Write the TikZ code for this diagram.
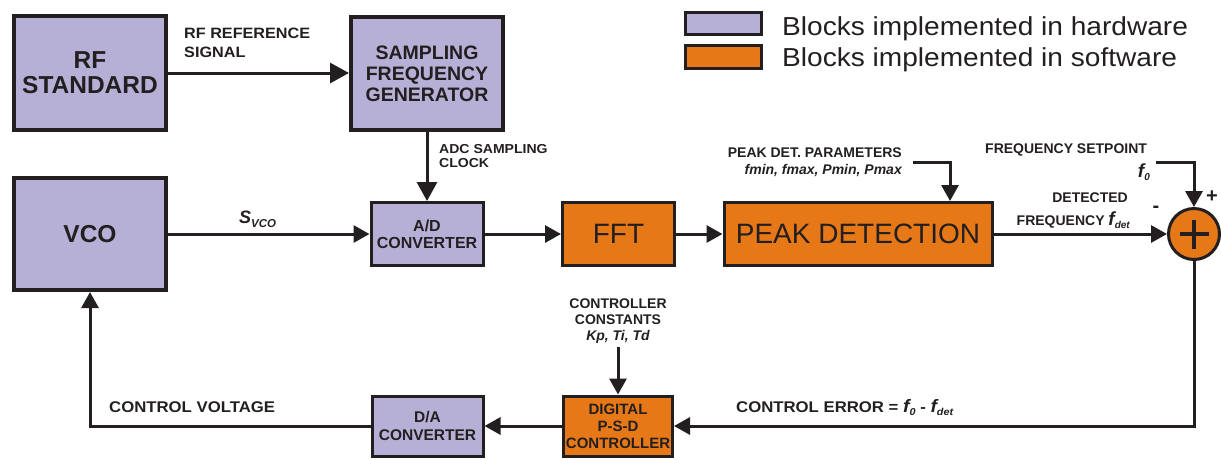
\documentclass[tikz,border=0pt]{standalone}
\usepackage{fontspec}
\setmainfont{Liberation Sans}
\newfontfamily\widefont{Liberation Sans}[FakeStretch=1.08]
\usetikzlibrary{arrows.meta}
\definecolor{hw}{RGB}{183,176,214}
\definecolor{sw}{RGB}{230,120,23}
\definecolor{ln}{RGB}{35,31,32}
\newcommand\fsz[2]{\fontsize{#1}{#2}\selectfont}
\begin{document}
\begin{tikzpicture}[x=1pt,y=-1pt,
  every node/.style={text=ln,inner sep=0pt},
  block/.style={draw=ln,line width=3pt,align=center},
  hwblk/.style={block,fill=hw},
  swblk/.style={block,fill=sw},
  bigline/.style={line width=4pt},
  arr/.style={draw=ln,line width=3pt,-{Triangle[length=16pt,width=17pt]}},
  bigarr/.style={draw=ln,line width=3pt,-{Triangle[length=19pt,width=20pt]}}
]
\useasboundingbox (0,0) rectangle (1221,459);

% legend
\node[hwblk,minimum width=76pt,minimum height=22pt] (hwbox) at (723,23.5) {};
\node[swblk,minimum width=76pt,minimum height=23pt] (swbox) at (723,57) {};
\node[anchor=base west,font=\widefont\fsz{26}{26}] (hwtxt) at (782,35) {Blocks implemented in hardware};
\node[anchor=base west,font=\widefont\fsz{26}{26}] (swtxt) at (782,66.5) {Blocks implemented in software};

% blocks
\node[hwblk,bigline,minimum width=152pt,minimum height=114pt,font=\fsz{24.5}{25}\bfseries] (rf) at (90,73) {RF\\STANDARD};
\node[hwblk,bigline,minimum width=152pt,minimum height=113pt,font=\fsz{19.5}{21}\bfseries] (sfg) at (427,73.5) {SAMPLING\\FREQUENCY\\GENERATOR};
\node[hwblk,bigline,minimum width=152pt,minimum height=112pt,font=\fsz{24.5}{25}\bfseries] (vco) at (90,234) {VCO};
\node[hwblk,minimum width=112pt,minimum height=63pt,font=\fsz{16}{17}\bfseries] (ad) at (427,234) {A/D\\CONVERTER};
\node[swblk,minimum width=112pt,minimum height=63pt,font=\fsz{28}{28}] (fft) at (618.5,234) {FFT};
\node[swblk,minimum width=268pt,minimum height=63pt,font=\fsz{28}{28}] (peak) at (858,234) {PEAK DETECTION};
\node[draw=ln,fill=sw,line width=3pt,circle,minimum size=51pt] (sum) at (1194,234) {};
\node[hwblk,minimum width=111pt,minimum height=60pt,font=\fsz{15.5}{18}\bfseries] (da) at (427.5,426) {D/A\\CONVERTER};
\node[swblk,minimum width=109pt,minimum height=60pt,font=\fsz{15}{17}\bfseries] (psd) at (618,426) {DIGITAL\\P-S-D\\CONTROLLER};

% plus sign inside summing junction
\draw[ln,line width=3.5pt] (sum.center) ++(-14.5,0) -- ++(29,0);
\draw[ln,line width=3.5pt] (sum.center) ++(0,-14.5) -- ++(0,29);

% connectors
\draw[bigarr] (rf.east) -- (rf.east -| sfg.west);
\draw[bigarr] (sfg.south) -- (ad.north);
\draw[arr] (vco.east) -- (ad.west);
\draw[arr] (ad.east) -- (fft.west);
\draw[arr] (fft.east) -- (peak.west);
\draw[arr] (peak.east) -- (sum.west);
\coordinate (ppin) at (913,162);
\coordinate (ppx) at (950,162);
\draw[arr] (ppin) -- (ppx) -- (ppx |- peak.north);
\coordinate (spin) at (1156,162);
\draw[arr] (spin) -| (sum.north);
\draw[arr] (sum.south) |- (psd.east);
\draw[arr] (psd.west) -- (da.east);
\draw[arr] (da.west) -| (vco.south);
\coordinate (ccin) at (618,347);
\draw[arr] (ccin) -- (psd.north);

% labels
\node[anchor=north west,align=left,font=\widefont\fsz{15}{19}\bfseries] (rfl) at (184,27.5) {RF REFERENCE\\SIGNAL};
\node[anchor=north west,align=left,font=\widefont\fsz{13}{14}\bfseries] (adcl) at (439,144.5) {ADC SAMPLING\\CLOCK};
\node[anchor=base west,font=\fsz{18}{18}\bfseries\itshape] (svco) at (239,223) {S\raisebox{-4pt}{\fsz{11.5}{12}\bfseries\itshape VCO}};
\node[anchor=north east,align=right,font=\fsz{14}{17}\bfseries] (ppl) at (902,148) {PEAK DET. PARAMETERS\\\itshape fmin, fmax, Pmin, Pmax};
\node[anchor=north west,font=\fsz{14}{14}\bfseries] (spl) at (985,144) {FREQUENCY SETPOINT};
\node[anchor=base east,font=\fsz{19}{19}\bfseries\itshape] (f0l) at (1150,177.5) {f\raisebox{-3pt}{\fsz{10}{10}\bfseries 0}};
\node[anchor=base east,font=\fsz{14}{14}\bfseries] (det1) at (1128,202) {DETECTED};
\node[anchor=base east,font=\fsz{14}{14}\bfseries] (det2) at (1130,225) {FREQUENCY {\fsz{19}{19}\itshape f}\raisebox{-3pt}{\fsz{10}{10}\itshape det}};
\node[font=\fsz{20}{20}\bfseries] (plus) at (1212,197) {+};
\node[font=\fsz{20}{20}\bfseries] (minus) at (1156,209) {-};
\node[anchor=north,align=center,font=\fsz{14}{16}\bfseries] (ccl) at (618,299) {CONTROLLER\\CONSTANTS\\\itshape Kp, Ti, Td};
\node[anchor=base west,font=\widefont\fsz{15.5}{16}\bfseries] (cvl) at (109,412.5) {CONTROL VOLTAGE};
\node[anchor=base west,font=\widefont\fsz{15.5}{16}\bfseries] (cel) at (736,412.5) {CONTROL ERROR = {\fsz{18}{18}\itshape f}\raisebox{-3pt}{\fsz{10}{10}\itshape 0} - {\fsz{18}{18}\itshape f}\raisebox{-3pt}{\fsz{10}{10}\itshape det}};
\end{tikzpicture}
\end{document}
